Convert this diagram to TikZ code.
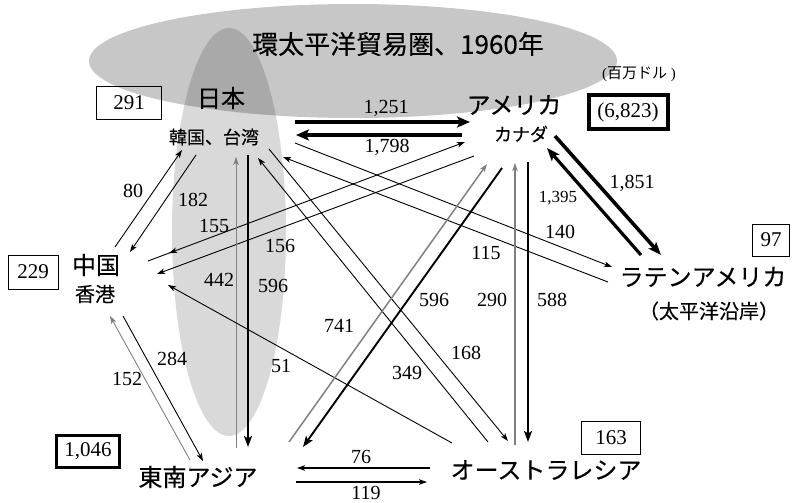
\documentclass[tikz,border=0pt]{standalone}
\usepackage{fontspec}
\setmainfont{Liberation Serif}
\newfontfamily\jp[FakeBold=0.3]{Noto Sans CJK JP}
\newfontfamily\jpthin{Noto Sans CJK JP}
\usetikzlibrary{arrows.meta,decorations.markings}
\begin{document}
\begin{tikzpicture}[x=1pt,y=-1pt,
  region/.style={font={\jp\fontsize{24}{24}\selectfont}, inner sep=0pt},
  sub/.style={font={\jp\fontsize{18}{18}\selectfont}, inner sep=0pt},
  subb/.style={font={\jp\fontsize{20}{20}\selectfont}, inner sep=0pt},
  lbl/.style={font={\fontsize{20}{20}\selectfont}, inner sep=0pt},
  numbox/.style={draw, line width=1pt, inner sep=0pt, font={\fontsize{21}{21}\selectfont}},
  flow/.style={line width=0.9pt, -{Stealth[length=8pt,width=5.5pt,inset=2pt]}},
  grayflow/.style={flow, draw=gray},
  midflow/.style={line width=2.2pt, -{Stealth[length=11pt,width=8pt,inset=2.5pt]}},
  heavy/.style={line width=4.5pt, -{Stealth[length=13pt,width=11pt,inset=3pt]}},
  strong/.style={line width=3.2pt, -{Stealth[length=13pt,width=10pt,inset=3pt]}},
]
\useasboundingbox (0,0) rectangle (793,503);
% background regions
\fill[black, fill opacity=0.22] (353,61) ellipse [x radius=264pt, y radius=57pt];
\fill[black, fill opacity=0.15] (229,232) ellipse [x radius=57pt, y radius=204pt];

% texts
\node[font={\jp\fontsize{26}{26}\selectfont}, inner sep=0pt] (title) at (398,44) {環太平洋貿易圏、1960年};
\node[region] (jp) at (221,98) {日本};
\node[sub] (kt) at (214,137) {韓国、台湾};
\node[region] (us) at (514,105) {アメリカ};
\node[sub] (ca) at (521,134) {カナダ};
\node[region] (cn) at (96,265) {中国};
\node[subb] (hk) at (95,294) {香港};
\node[region] (sea) at (198,477) {東南アジア};
\node[region] (au) at (546,470) {オーストラレシア};
\node[region] (la) at (703,277) {ラテンアメリカ};
\node[subb] (lap) at (709,311) {（太平洋沿岸）};
\node[inner sep=0pt, font={\fontsize{15}{15}\selectfont}] (unit) at (639,74) {({\jpthin 百万ドル} )};

% boxes
\node[numbox, minimum width=65pt, minimum height=33pt] (b291) at (129,103) {291};
\node[numbox, line width=4pt, minimum width=79pt, minimum height=34pt] (b6823) at (628,112) {(6,823)};
\node[numbox, minimum width=50pt, minimum height=34pt] (b229) at (33,272) {229};
\node[numbox, line width=3pt, minimum width=63pt, minimum height=32pt] (b1046) at (88,451) {1,046};
\node[numbox, minimum width=59pt, minimum height=33pt] (b163) at (611,438) {163};
\node[numbox, minimum width=37pt, minimum height=32pt] (b97) at (771,240) {97};

% connector end points
\coordinate (jpA) at (295,122); \coordinate (usA) at (470,122);
\coordinate (usB) at (462,135); \coordinate (jpB) at (296,135);
\coordinate (jpC) at (295,143); \coordinate (laC) at (612,267);
\coordinate (laD) at (608,282); \coordinate (jpD) at (283,157);
\coordinate (cnE) at (148,261); \coordinate (usE) at (465,142);
\coordinate (usF) at (474,156); \coordinate (cnF) at (157,274);
\coordinate (seaG) at (236,448); \coordinate (jpG) at (236,157);
\coordinate (jpH) at (248,155); \coordinate (seaH) at (248,447);
\coordinate (jpI) at (269,149); \coordinate (auI) at (508,441);
\coordinate (auJ) at (488,442); \coordinate (jpJ) at (258,158);
\coordinate (auK) at (452,443); \coordinate (cnK) at (168,285);
\coordinate (seaL) at (289,442); \coordinate (usL) at (487,164);
\coordinate (usM) at (502,168); \coordinate (seaM) at (303,447);
\coordinate (auN) at (515,445); \coordinate (usN) at (515,163);
\coordinate (usO) at (528,162); \coordinate (auO) at (528,442);
\coordinate (usP) at (555,136); \coordinate (laP) at (661,255);
\coordinate (laQ) at (641,255); \coordinate (usQ) at (547,148);
\coordinate (cnR) at (115,247); \coordinate (jpR) at (182,150);
\coordinate (jpS) at (196,155); \coordinate (cnS) at (130,252);
\coordinate (seaT) at (190,460); \coordinate (cnT) at (110,316);
\coordinate (cnU) at (123,316); \coordinate (seaU) at (203,461);
\coordinate (auV) at (430,468); \coordinate (seaV) at (297,468);
\coordinate (seaW) at (296,482); \coordinate (auW) at (427,482);

% flows
\draw[heavy] (jpA) -- (usA);
\draw[heavy] (usB) -- (jpB);
\draw[flow] (jpC) -- (laC);
\draw[flow] (laD) -- (jpD);
\draw[flow, postaction={decorate}, decoration={markings,
  mark=at position 0.09 with {\arrow{Stealth[length=8pt,width=5.5pt,inset=2pt,reversed]}}}] (cnE) -- (usE);
\draw[flow] (usF) -- (cnF);
\draw[grayflow] (seaG) -- (jpG);
\draw[midflow] (jpH) -- (seaH);
\draw[flow] (jpI) -- (auI);
\draw[flow] (auJ) -- (jpJ);
\draw[flow] (auK) -- (cnK);
\draw[grayflow, line width=1.5pt] (seaL) -- (usL);
\draw[midflow, line width=1.9pt] (usM) -- (seaM);
\draw[grayflow, line width=1.2pt] (auN) -- (usN);
\draw[midflow] (usO) -- (auO);
\draw[strong, line width=3.6pt] (usP) -- (laP);
\draw[strong] (laQ) -- (usQ);
\draw[flow] (cnR) -- (jpR);
\draw[flow] (jpS) -- (cnS);
\draw[grayflow] (seaT) -- (cnT);
\draw[flow] (cnU) -- (seaU);
\draw[flow, line width=1.5pt] (auV) -- (seaV);
\draw[flow, line width=1.5pt] (seaW) -- (auW);

% labels
\node[lbl] (l1251) at (386,108) {1,251};
\node[lbl] (l1798) at (387,147) {1,798};
\node[lbl] (l80) at (133,191) {80};
\node[lbl] (l182) at (193,200) {182};
\node[lbl] (l155) at (214,226) {155};
\node[lbl] (l156) at (280,246) {156};
\node[lbl] (l442) at (219,280) {442};
\node[lbl] (l596a) at (273,286) {596};
\node[lbl] (l741) at (339,326) {741};
\node[lbl] (l51) at (281,366) {51};
\node[lbl] (l284) at (172,359) {284};
\node[lbl] (l152) at (127,379) {152};
\node[lbl] (l76) at (361,457) {76};
\node[lbl] (l119) at (366,493) {119};
\node[lbl] (l596b) at (434,300) {596};
\node[lbl] (l290) at (492,300) {290};
\node[lbl] (l588) at (552,300) {588};
\node[lbl] (l168) at (466,353) {168};
\node[lbl] (l349) at (407,373) {349};
\node[lbl] (l115) at (486,253) {115};
\node[lbl] (l140) at (560,232) {140};
\node[lbl, font={\fontsize{17}{17}\selectfont}] (l1395) at (558,198) {1,395};
\node[lbl] (l1851) at (632,183) {1,851};
\end{tikzpicture}
\end{document}
